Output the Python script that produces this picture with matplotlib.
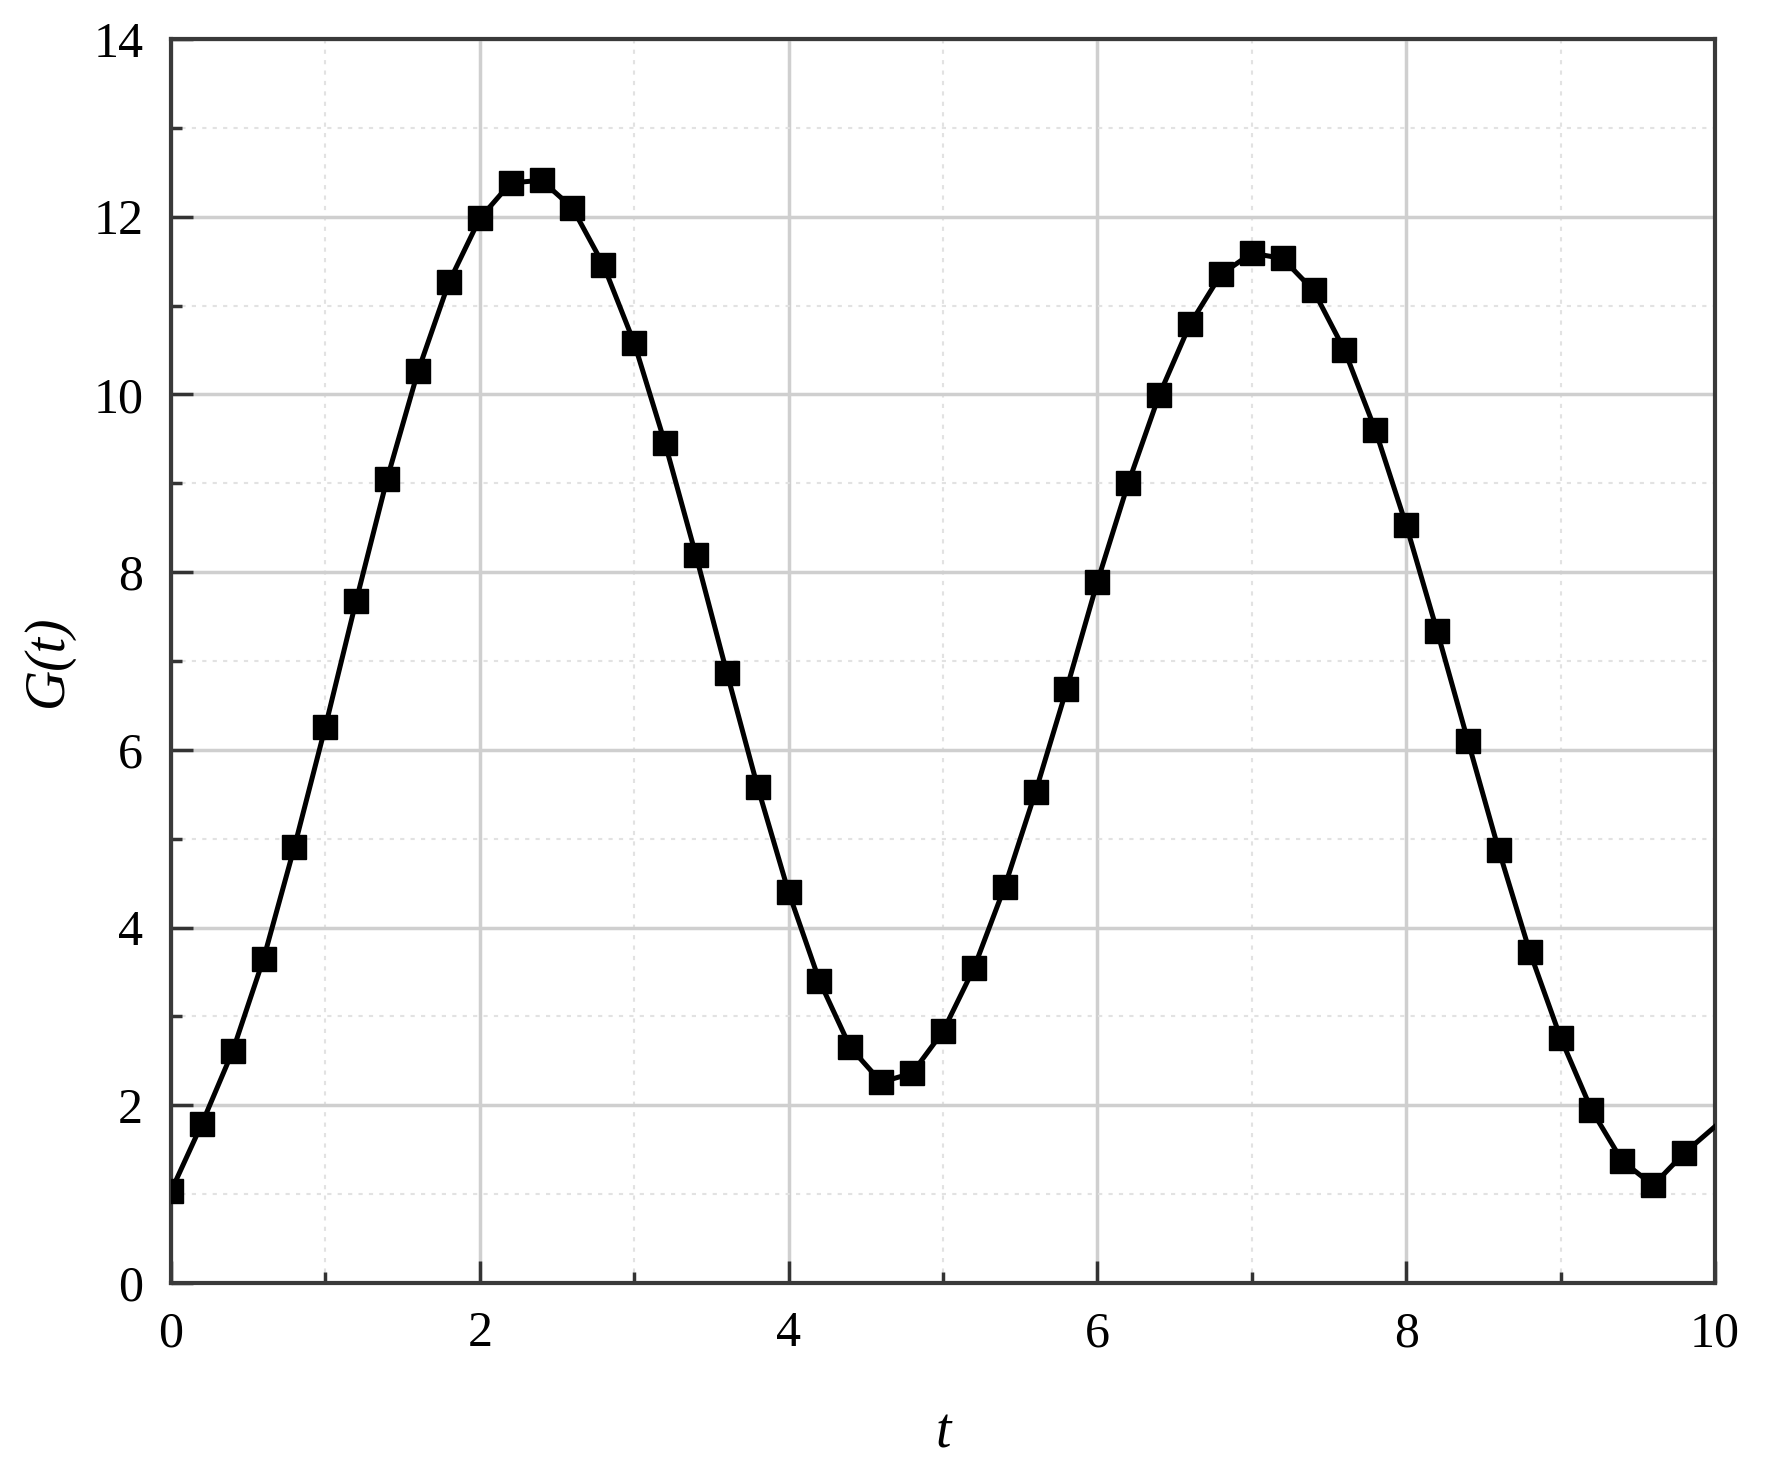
import matplotlib
matplotlib.use('Agg')
import matplotlib.pyplot as plt
from matplotlib.ticker import MultipleLocator

plt.rcParams['font.family'] = ['Liberation Serif', 'DejaVu Serif']

# 数据: 标记点 (每 0.2 一个)
t = [0.0, 0.2, 0.4, 0.6, 0.8, 1.0, 1.2, 1.4, 1.6, 1.8,
     2.0, 2.2, 2.4, 2.6, 2.8, 3.0, 3.2, 3.4, 3.6, 3.8,
     4.0, 4.2, 4.4, 4.6, 4.8, 5.0, 5.2, 5.4, 5.6, 5.8,
     6.0, 6.2, 6.4, 6.6, 6.8, 7.0, 7.2, 7.4, 7.6, 7.8,
     8.0, 8.2, 8.4, 8.6, 8.8, 9.0, 9.2, 9.4, 9.6, 9.8]
G = [1.03, 1.79, 2.61, 3.65, 4.91, 6.26, 7.68, 9.05, 10.26, 11.26,
     11.98, 12.38, 12.41, 12.10, 11.46, 10.58, 9.45, 8.19, 6.87, 5.58,
     4.40, 3.40, 2.65, 2.26, 2.36, 2.83, 3.54, 4.46, 5.53, 6.68,
     7.89, 9.00, 9.99, 10.79, 11.35, 11.59, 11.53, 11.17, 10.50, 9.60,
     8.53, 7.34, 6.10, 4.87, 3.73, 2.76, 1.95, 1.37, 1.10, 1.46]
# 曲线末端 (t=10 处无标记)
t_end = [10.0]
G_end = [1.76]

fig = plt.figure(figsize=(17.66, 14.83), dpi=100)
ax = fig.add_axes([0.0968, 0.1349, 0.8743, 0.8388])

ax.plot(t + t_end, G + G_end, color='black', linewidth=3.6, zorder=4)
ax.plot(t, G, linestyle='none', marker='s', markersize=17, color='black', zorder=5)

ax.set_xlim(0, 10)
ax.set_ylim(0, 14)
ax.xaxis.set_major_locator(MultipleLocator(2))
ax.xaxis.set_minor_locator(MultipleLocator(1))
ax.yaxis.set_major_locator(MultipleLocator(2))
ax.yaxis.set_minor_locator(MultipleLocator(1))

ax.grid(which='major', color='#cfcfcf', linewidth=2.5, linestyle='-')
ax.grid(which='minor', color='#e2e2e2', linewidth=1.5, linestyle=(0, (2, 3)))
ax.set_axisbelow(True)

ax.tick_params(which='major', direction='in', length=16, width=2.5, color='#333333',
               labelsize=36, pad=20, top=False, right=False)
ax.tick_params(which='minor', direction='in', length=8, width=2.5, color='#333333',
               top=False, right=False)
for s in ax.spines.values():
    s.set_linewidth(3.0)
    s.set_color('#3a3a3a')

ax.set_xlabel('t', fontsize=40, style='italic', labelpad=36)
ax.set_ylabel('G(t)', fontsize=40, style='italic', labelpad=14)

plt.savefig('out.png', dpi=100)
plt.close()
